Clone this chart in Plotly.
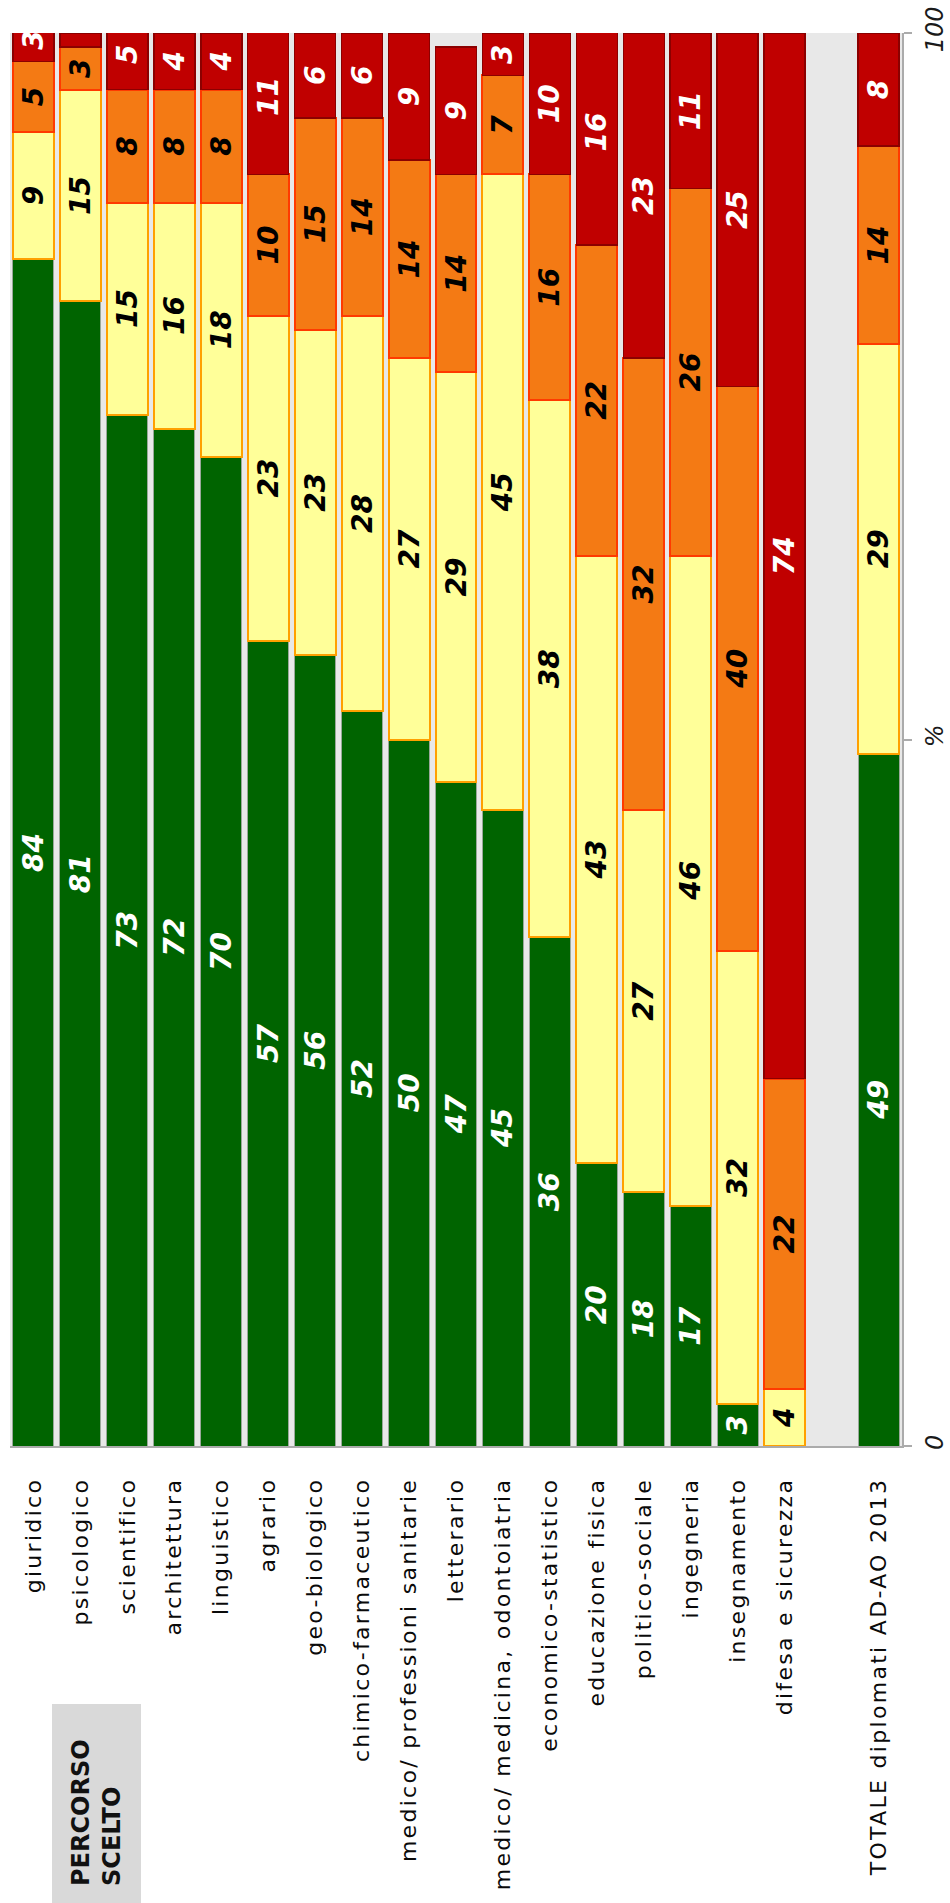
import plotly.graph_objects as go

# Percorso universitario scelto dai diplomati e giudizio sulla coerenza (%)
categories = [
    "giuridico", "psicologico", "scientifico", "architettura", "linguistico",
    "agrario", "geo-biologico", "chimico-farmaceutico",
    "medico/ professioni sanitarie", "letterario",
    "medico/ medicina, odontoiatria", "economico-statistico",
    "educazione fisica", "politico-sociale", "ingegneria", "insegnamento",
    "difesa e sicurezza", " ", "TOTALE diplomati AD-AO 2013",
]

green = [84, 81, 73, 72, 70, 57, 56, 52, 50, 47, 45, 36, 20, 18, 17, 3, 0, None, 49]
yellow = [9, 15, 15, 16, 18, 23, 23, 28, 27, 29, 45, 38, 43, 27, 46, 32, 4, None, 29]
orange = [5, 3, 8, 8, 8, 10, 15, 14, 14, 14, 7, 16, 22, 32, 26, 40, 22, None, 14]
red = [3, 1, 5, 4, 4, 11, 6, 6, 9, 9, 3, 10, 16, 23, 11, 25, 74, None, 8]

y_ticks = [0, 50, 100]
y_ticktext = ["0", "%", "100"]

series = [
    (green, "#006400", "#9aa89a", 1, "white"),
    (yellow, "#FFFF99", "#FFA000", 2, "black"),
    (orange, "#F47A14", "#FF3A00", 2, "black"),
    (red, "#C00000", "#8B0000", 1.5, "white"),
]

W, H = 950, 1903
ML, MR, MT, MB = 10, 48, 33, 457

fig = go.Figure()
for vals, fill, edge, lw, tcol in series:
    labels = [str(v) if (v is not None and v >= 2) else "" for v in vals]
    fig.add_trace(go.Bar(
        x=categories, y=vals, text=labels,
        textposition="inside", insidetextanchor="middle", textangle=-90,
        textfont=dict(family="DejaVu Sans", size=28, color=tcol,
                      weight="bold", style="italic"),
        marker=dict(color=fill, line=dict(color=edge, width=lw)),
        hoverinfo="skip", showlegend=False,
    ))

plot_h = H - MT - MB
plot_w = W - ML - MR

def px_to_paper_x(px):
    return (px - ML) / plot_w

def px_to_paper_y(py):
    return (H - MB - py) / plot_h

fig.add_shape(
    type="rect", xref="paper", yref="paper",
    x0=px_to_paper_x(52), x1=px_to_paper_x(141),
    y0=px_to_paper_y(1704), y1=px_to_paper_y(1910),
    fillcolor="#D9D9D9", line=dict(width=0), layer="below",
)
fig.add_annotation(
    xref="paper", yref="paper",
    x=px_to_paper_x(96.5), y=px_to_paper_y(1888),
    xanchor="center", yanchor="bottom",
    text="<b>PERCORSO<br>SCELTO</b>", textangle=-90, align="left",
    showarrow=False,
    font=dict(family="DejaVu Sans", size=24, color="#111111"),
)

fig.update_layout(
    width=W, height=H,
    margin=dict(l=ML, r=MR, t=MT, b=MB, pad=0, autoexpand=False),
    barmode="stack", bargap=0.127,
    plot_bgcolor="#E8E8E8", paper_bgcolor="white",
    xaxis=dict(
        type="category", categoryorder="array", categoryarray=categories,
        range=[-0.5, len(categories) - 0.5], automargin=False,
        tickangle=-90, ticks="", showgrid=False,
        showline=True, linecolor="#ABABAB", linewidth=2,
        tickfont=dict(family="DejaVu Sans", size=22, color="#0a0a0a"),
        ticklabelstandoff=21,
    ),
    yaxis=dict(
        range=[0, 100], side="right", automargin=False,
        tickvals=y_ticks, ticktext=y_ticktext, tickangle=-90,
        ticks="outside", ticklen=8, tickwidth=2, tickcolor="#ABABAB",
        showline=True, linecolor="#ABABAB", linewidth=2,
        showgrid=False, zeroline=False,
        tickfont=dict(family="DejaVu Sans", size=24, color="#1a1a1a",
                      style="italic"),
        ticklabelstandoff=2,
    ),
)

# wider tracking on the category labels
spacing_js = (
    "document.querySelectorAll('.xtick text').forEach(function(t){"
    "t.style.letterSpacing='2.3px';});"
)
fig.write_html("out.html", post_script=spacing_js)
